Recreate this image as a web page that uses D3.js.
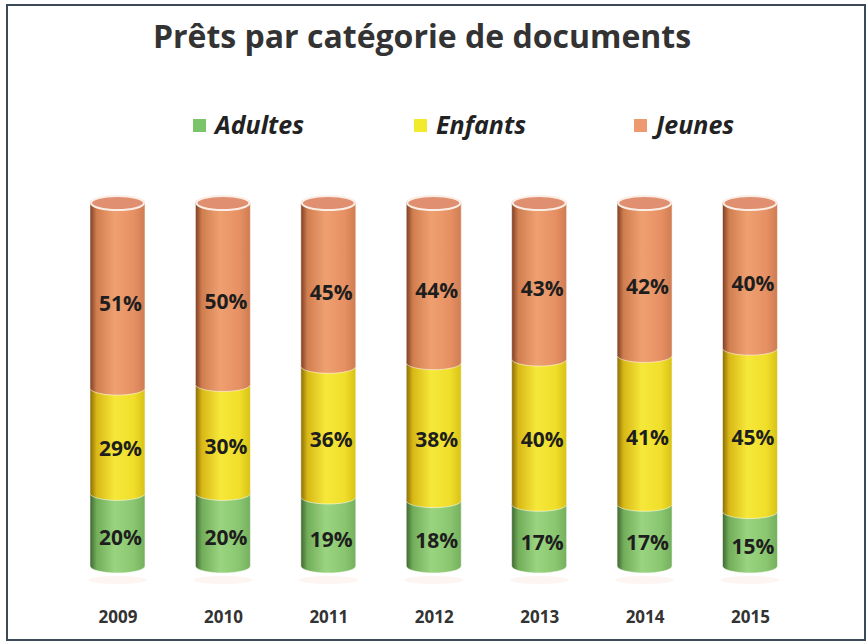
<!DOCTYPE html>
<html>
<head>
<meta charset="utf-8">
<script src="https://cdn.jsdelivr.net/npm/d3@7"></script>
<style>
  body { margin: 0; background: #fff; }
  svg text { font-family: "Open Sans", "DejaVu Sans", sans-serif; }
</style>
</head>
<body>
<div id="chart"></div>
<script>
// data (percent of loans per year)
var years = ["2009", "2010", "2011", "2012", "2013", "2014", "2015"];
var adultes = [20, 20, 19, 18, 17, 17, 15];
var enfants = [29, 30, 36, 38, 40, 41, 45];
var jeunes = [51, 50, 45, 44, 43, 42, 40];
var seriesNames = ["Adultes", "Enfants", "Jeunes"];

var width = 868, height = 642;

var svg = d3.select("#chart").append("svg")
    .attr("width", width)
    .attr("height", height);

svg.append("rect")
    .attr("x", 7).attr("y", 5)
    .attr("width", 858).attr("height", 635)
    .attr("fill", "#fff")
    .attr("stroke", "#3b4a56")
    .attr("stroke-width", 2);

// gradients for the cylinder look
var shades = {
    Adultes: ["#3f6630", "#72ad5a", "#9ad480", "#8ac670", "#74b05c"],
    Enfants: ["#8a6c06", "#d8b816", "#f6e83a", "#f0de2a", "#d8c216"],
    Jeunes:  ["#7e3e22", "#d07e50", "#efa070", "#e69064", "#cf7c52"]
};
var defs = svg.append("defs");
seriesNames.forEach(function(name) {
    var g = defs.append("linearGradient").attr("id", "grad-" + name)
        .attr("x1", "0%").attr("x2", "100%").attr("y1", "0%").attr("y2", "0%");
    var c = shades[name];
    [0, 0.12, 0.45, 0.8, 1].forEach(function(o, i) {
        g.append("stop").attr("offset", (o * 100) + "%").attr("stop-color", c[i]);
    });
});

var x = d3.scalePoint()
    .domain(years)
    .range([117.5, 750]);

var y = d3.scaleLinear()
    .domain([0, 100])
    .range([566, 203]);

var barW = 55, rx = barW / 2, ry = 7;

var table = years.map(function(yr, i) {
    return { year: yr, Adultes: adultes[i], Enfants: enfants[i], Jeunes: jeunes[i] };
});
var stack = d3.stack().keys(seriesNames)(table);

// faint shadow under each bar
svg.selectAll(".shadow")
    .data(years)
    .enter().append("ellipse")
    .attr("cx", function(d) { return x(d); })
    .attr("cy", y(0) + 14)
    .attr("rx", rx + 2).attr("ry", 4)
    .attr("fill", "#fbefea")
    .attr("opacity", 0.6);

function segPath(cx, yTop, yBot) {
    var x0 = cx - rx, x1 = cx + rx;
    return "M" + x0 + "," + yTop + " L" + x0 + "," + yBot +
        " A" + rx + "," + ry + " 0 0 0 " + x1 + "," + yBot +
        " L" + x1 + "," + yTop +
        " A" + rx + "," + ry + " 0 0 0 " + x0 + "," + yTop + " Z";
}

stack.forEach(function(layer) {
    var name = layer.key;
    var g = svg.append("g").attr("class", "layer-" + name);
    g.selectAll("path")
        .data(layer)
        .enter().append("path")
        .attr("d", function(d) { return segPath(x(d.data.year), y(d[1]), y(d[0])); })
        .attr("fill", "url(#grad-" + name + ")")
        .attr("stroke", "rgba(255,255,255,0.55)")
        .attr("stroke-width", 1);
});

// top caps
svg.selectAll(".cap")
    .data(years)
    .enter().append("ellipse")
    .attr("cx", function(d) { return x(d); })
    .attr("cy", y(100))
    .attr("rx", rx - 1).attr("ry", ry)
    .attr("fill", "#e09070")
    .attr("stroke", "#fbeee6")
    .attr("stroke-width", 2);

// value labels
stack.forEach(function(layer) {
    svg.append("g").selectAll("text")
        .data(layer)
        .enter().append("text")
        .attr("x", function(d) { return x(d.data.year) + 3; })
        .attr("y", function(d) { return (y(d[0]) + y(d[1])) / 2 + 15; })
        .attr("text-anchor", "middle")
        .attr("font-size", 21)
        .attr("font-weight", "bold")
        .attr("fill", "#1e1e1e")
        .text(function(d) { return (d[1] - d[0]) + "%"; });
});

// year axis
var axis = svg.append("g")
    .attr("transform", "translate(0,608)")
    .call(d3.axisBottom(x).tickSize(0).tickPadding(0));
axis.select(".domain").remove();
axis.selectAll("text")
    .attr("font-size", 17)
    .attr("font-weight", "bold")
    .attr("fill", "#333")
    .attr("dy", "0.9em")
    .style("font-family", "\"Open Sans\", sans-serif");

// title
svg.append("text")
    .attr("x", 422).attr("y", 48)
    .attr("text-anchor", "middle")
    .attr("font-size", 32)
    .attr("font-weight", "bold")
    .attr("fill", "#333")
    .text("Prêts par catégorie de documents");

// legend
var legendX = [193, 414, 634];
var legendColors = ["#7cc46a", "#f2ea2c", "#ee9a70"];
var legend = svg.selectAll(".legend")
    .data(seriesNames)
    .enter().append("g")
    .attr("transform", function(d, i) { return "translate(" + legendX[i] + ",125)"; });
legend.append("rect")
    .attr("x", 0).attr("y", -6)
    .attr("width", 13).attr("height", 13)
    .attr("fill", function(d, i) { return legendColors[i]; });
legend.append("text")
    .attr("x", 22).attr("y", 9)
    .attr("font-size", 25)
    .attr("font-weight", "bold")
    .attr("font-style", "italic")
    .attr("fill", "#222")
    .text(function(d) { return d; });
</script>
</body>
</html>
